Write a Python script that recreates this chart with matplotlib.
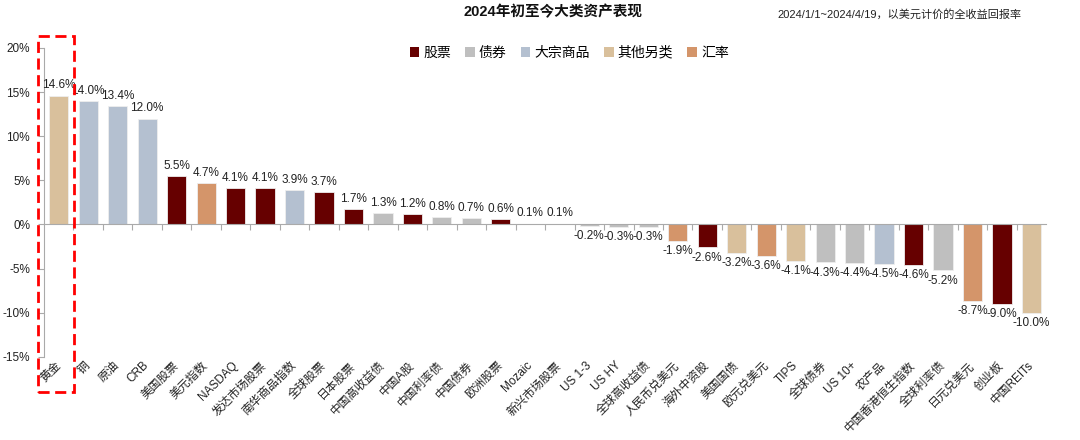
import matplotlib.pyplot as plt
from matplotlib.patches import Patch, Rectangle
import matplotlib.ticker as mticker

plt.rcParams['font.family'] = ['Liberation Sans', 'Noto Sans CJK SC', 'DejaVu Sans']

categorias = ["黄金", "铜", "原油", "CRB", "美国股票", "美元指数", "NASDAQ", "发达市场股票",
              "南华商品指数", "全球股票", "日本股票", "中国高收益债", "中国A股", "中国利率债",
              "中国债券", "欧洲股票", "Mozaic", "新兴市场股票", "US 1-3", "US HY", "全球高收益债",
              "人民币兑美元", "海外中资股", "美国国债", "欧元兑美元", "TIPS", "全球债券", "US 10+",
              "农产品", "中国香港恒生指数", "全球利率债", "日元兑美元", "创业板", "中国REITs"]
valores = [14.6, 14.0, 13.4, 12.0, 5.5, 4.7, 4.1, 4.1, 3.9, 3.7, 1.7, 1.3, 1.2, 0.8, 0.7, 0.6,
           0.1, 0.1, -0.2, -0.3, -0.3, -1.9, -2.6, -3.2, -3.6, -4.1, -4.3, -4.4, -4.5, -4.6,
           -5.2, -8.7, -9.0, -10.0]
clases = ["其他另类", "大宗商品", "大宗商品", "大宗商品", "股票", "汇率", "股票", "股票",
          "大宗商品", "股票", "股票", "债券", "股票", "债券", "债券", "股票", "其他另类", "股票",
          "债券", "债券", "债券", "汇率", "股票", "其他另类", "汇率", "其他另类", "债券", "债券",
          "大宗商品", "股票", "债券", "汇率", "股票", "其他另类"]

orden_leyenda = ["股票", "债券", "大宗商品", "其他另类", "汇率"]
colores = {"股票": "#660000", "债券": "#BFBFBF", "大宗商品": "#B4C0D0",
           "其他另类": "#D9C09C", "汇率": "#D4956A"}

fig = plt.figure(figsize=(10.8, 4.4), dpi=100)
ax = fig.add_axes([0.0407, 0.189, 0.928, 0.702])

x = list(range(len(categorias)))
ax.bar(x, valores, width=0.65, color=[colores[c] for c in clases],
       edgecolor="#EEEEEE", linewidth=0.6, zorder=2)

# etiquetas de datos
for xi, v in zip(x, valores):
    if v >= 0:
        ax.annotate(f"{v:.1f}%", (xi, v), xytext=(0, 3), textcoords="offset points",
                    ha="center", va="bottom", fontsize=8.5, color="#222222")
    else:
        ax.annotate(f"{v:.1f}%", (xi, v), xytext=(0, -3), textcoords="offset points",
                    ha="center", va="top", fontsize=8.5, color="#222222")

ax.set_xlim(-0.5, len(categorias) - 0.5)
ax.set_ylim(-15, 20)
ax.yaxis.set_major_locator(mticker.MultipleLocator(5))
ax.yaxis.set_major_formatter(mticker.FuncFormatter(lambda v, p: f"{v:.0f}%"))
ax.tick_params(axis="y", labelsize=8.5, colors="#222222", length=4, color="#AAAAAA", pad=6)
ax.tick_params(axis="y", color="#AAAAAA")

for s in ["top", "right"]:
    ax.spines[s].set_visible(False)
ax.spines["left"].set_color("#AAAAAA")
ax.spines["bottom"].set_position(("data", 0))
ax.spines["bottom"].set_color("#AAAAAA")
ax.set_xticks([i + 0.5 for i in x[:-1]])
ax.set_xticklabels([])
ax.tick_params(axis="x", length=4, color="#AAAAAA", direction="out")

# etiquetas de categorias abajo
sec = ax.secondary_xaxis("bottom")
sec.set_xticks(x)
sec.set_xticklabels(categorias, rotation=45, ha="right", rotation_mode="anchor",
                    fontsize=8.5, color="#222222")
sec.tick_params(length=0, pad=5)
sec.spines["bottom"].set_visible(False)
for lbl in sec.get_xticklabels():
    lbl.set_va("center")

# recuadro rojo del oro
fig.patches.append(Rectangle((0.035, 0.109), 0.0335, 0.809, transform=fig.transFigure,
                             fill=False, edgecolor="#FF0000", linestyle=(0, (4, 2)),
                             linewidth=2))

fig.text(0.512, 0.972, "2024年初至今大类资产表现", ha="center", va="center",
         fontsize=10.5, fontweight="bold", color="#111111")
fig.text(0.72, 0.968, "2024/1/1~2024/4/19，以美元计价的全收益回报率", ha="left",
         va="center", fontsize=8, color="#222222")

handles = [Patch(facecolor=colores[c], edgecolor="none") for c in orden_leyenda]
fig.legend(handles, orden_leyenda, loc="center", bbox_to_anchor=(0.527, 0.88), ncol=5,
           frameon=False, fontsize=10, handlelength=0.7, handleheight=0.7,
           handletextpad=0.3, columnspacing=1.0)

fig.savefig("out.png", dpi=100)
